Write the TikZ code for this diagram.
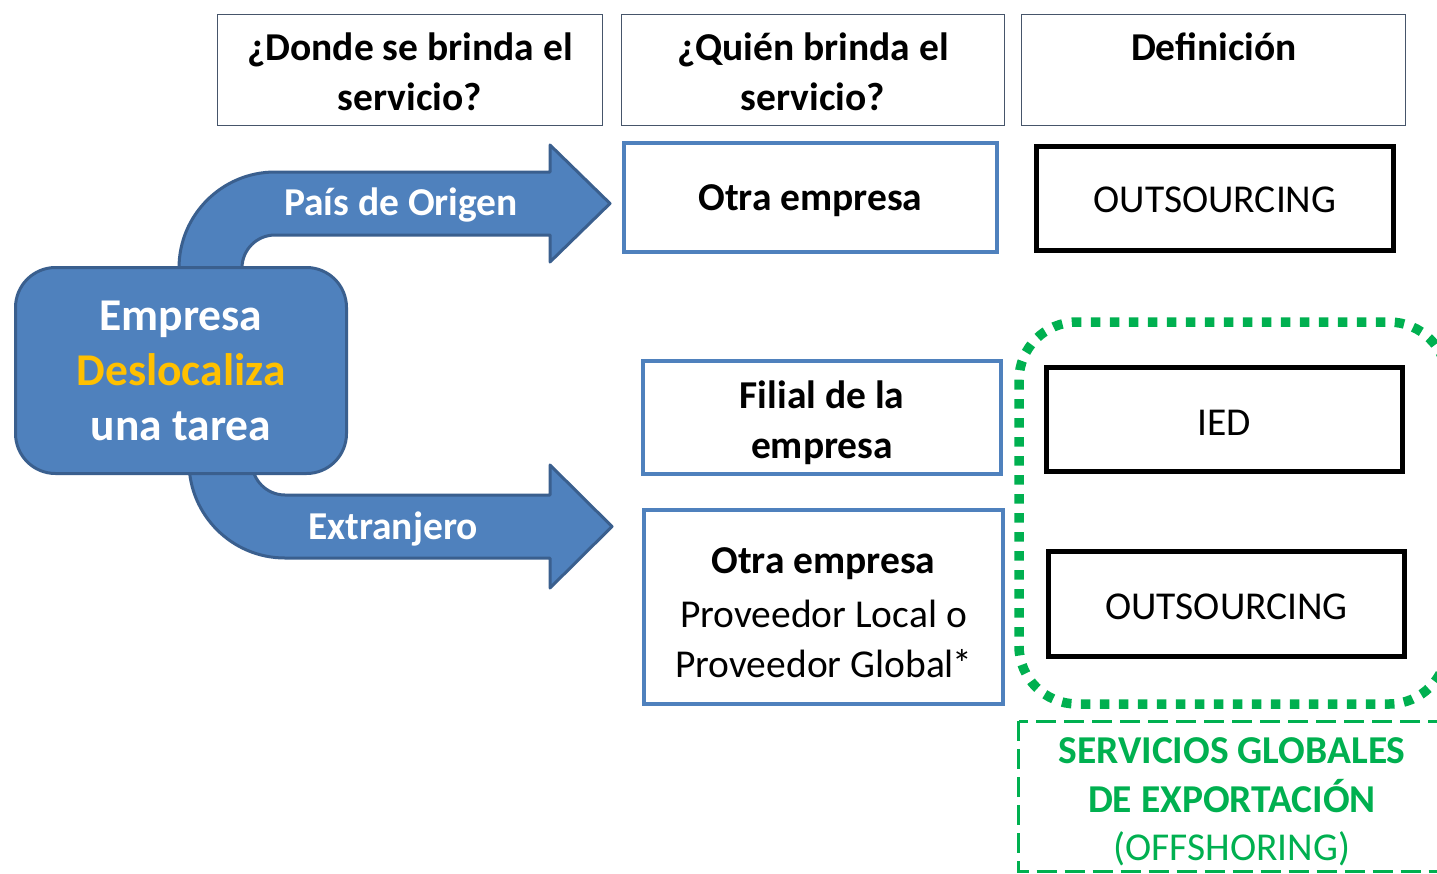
\documentclass[tikz,border=0pt]{standalone}
\usepackage{fontspec}
\setmainfont{Carlito}
\definecolor{accblue}{HTML}{4F81BD}
\definecolor{darkblue}{HTML}{3A5F8E}
\definecolor{hdrgray}{HTML}{46556A}
\definecolor{goldtxt}{HTML}{FFC000}
\definecolor{offgreen}{HTML}{00B050}
\tikzset{
  txt/.style={font=\fontsize{39.5}{50}\selectfont, align=center, inner sep=0pt},
  btxt/.style={txt, font=\fontsize{39.5}{50}\selectfont\bfseries},
  hdrbox/.style={draw=hdrgray, line width=1.7pt},
  bluebox/.style={draw=accblue, line width=4.5pt, fill=white},
  blackbox/.style={draw=black, line width=5.5pt, fill=white},
  blockarrow/.style={fill=accblue, draw=darkblue, line width=3pt, line join=round},
}
\begin{document}
\begin{tikzpicture}[x=1pt,y=1pt]
\useasboundingbox (0,0) rectangle (1437,-873);
\clip (0,0) rectangle (1437,-873);
\fill[white] (0,0) rectangle (1437,-873);

% header boxes
\node[hdrbox, minimum width=385pt, minimum height=111pt] (h1) at (410,-70) {};
\node[hdrbox, minimum width=383pt, minimum height=111pt] (h2) at (813,-70) {};
\node[hdrbox, minimum width=384pt, minimum height=111pt] (h3) at (1213.5,-70) {};
\node[btxt] (h1t) at ([yshift=-2pt]h1.center) {¿Donde se brinda el\\servicio?};
\node[btxt] (h2t) at ([yshift=-2pt]h2.center) {¿Quién brinda el\\servicio?};
\node[btxt] (h3t) at (1214,-47) {Definición};

% block arrows
\path[blockarrow] (179,-300) -- (179,-268) arc[start angle=180, end angle=90, radius=96]
  -- (550,-172) -- (550,-145) -- (610,-203.5) -- (550,-262) -- (550,-235) -- (275,-235)
  arc[start angle=90, end angle=180, radius=33] -- (242,-300) -- cycle;
\path[blockarrow] (189,-440) -- (189,-462) arc[start angle=180, end angle=270, radius=96]
  -- (550,-558) -- (550,-588) -- (612,-526.5) -- (550,-465) -- (550,-495) -- (285,-495)
  arc[start angle=270, end angle=180, radius=33] -- (252,-440) -- cycle;

% main box
\node[fill=accblue, draw=darkblue, line width=3pt, rounded corners=40pt,
      minimum width=331pt, minimum height=206pt, inner sep=0pt,
      font=\fontsize{45.5}{55}\selectfont\bfseries, text=white, align=center]
      (emp) at (181,-370.5) {Empresa\\\textcolor{goldtxt}{Deslocaliza}\\una tarea};

\node[btxt, text=white] (lorig) at (401,-204.5) {País de Origen};
\node[btxt, text=white] (lext) at (393,-529) {Extranjero};

% who boxes
\node[bluebox, minimum width=373pt, minimum height=109pt] (q1) at (810.5,-197.5) {};
\node[bluebox, minimum width=358pt, minimum height=113pt] (q2) at (822,-417.5) {};
\node[bluebox, minimum width=359pt, minimum height=194pt] (q3) at (823.5,-607) {};
\node[btxt] (q1t) at ([yshift=-3pt]q1.center) {Otra empresa};
\node[btxt] (q2t) at ([yshift=-5pt]q2.center) {Filial de la\\empresa};
\node[txt] (q3t) at ([yshift=-6pt]q3.center) {\textbf{Otra empresa}\\[4pt]Proveedor Local o\\Proveedor Global\kern-2pt*};

% green groups
\draw[offgreen, line width=9.5pt, dash pattern=on 9.5pt off 9.5pt, rounded corners=58pt] (1019,-322) rectangle (1447,-704);
\draw[offgreen, line width=3pt, dash pattern=on 20pt off 8pt] (1018.5,-721) rectangle (1447,-871);

% definition boxes
\node[blackbox, minimum width=357pt, minimum height=104pt] (d1) at (1215,-198.5) {};
\node[blackbox, minimum width=356pt, minimum height=104pt] (d2) at (1224.5,-419.5) {};
\node[blackbox, minimum width=356pt, minimum height=105pt] (d3) at (1226.5,-604) {};
\node[txt] (d1t) at ([yshift=-1pt]d1.center) {OUTSOURCING};
\node[txt] (d2t) at ([yshift=-3pt]d2.center) {IED};
\node[txt] (d3t) at ([yshift=-3pt]d3.center) {OUTSOURCING};

\node[txt, text=offgreen, font=\fontsize{39.5}{48.5}\selectfont] (off) at (1232,-802)
  {\textbf{SERVICIOS GLOBALES}\\\textbf{DE EXPORTACIÓN}\\(OFFSHORING)};
\end{tikzpicture}
\end{document}
